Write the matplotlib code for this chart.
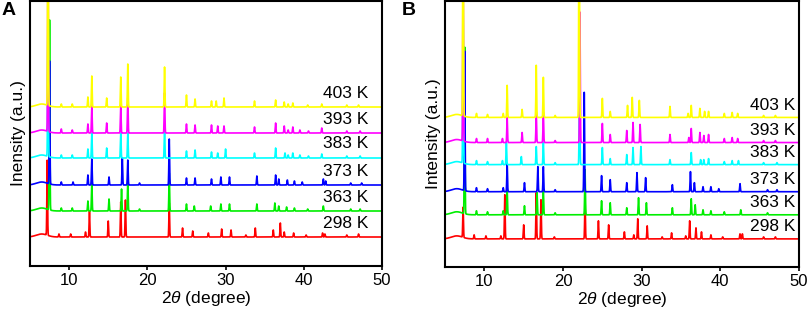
import numpy as np
import matplotlib
matplotlib.use("Agg")
import matplotlib.pyplot as plt

plt.rcParams['font.family'] = ['Liberation Sans', 'DejaVu Sans']
plt.rcParams['mathtext.fontset'] = 'custom'
plt.rcParams['mathtext.it'] = 'Liberation Sans:italic'
plt.rcParams['mathtext.rm'] = 'Liberation Sans'

temps = ["298 K", "363 K", "373 K", "383 K", "393 K", "403 K"]
colors = ["#ff0000", "#00ee00", "#0000ff", "#00ffff", "#ff00ff", "#ffff00"]

# Panel A: baselines (stack offsets) and peak lists (2theta, height)
A_offsets = [29, 55, 81, 108, 133, 159]
A_298_pos = [7.2, 8.7, 10.2, 12.1, 12.6, 15.0, 16.6, 17.2, 22.8, 24.5, 25.8, 27.8, 29.5, 30.7, 32.6, 33.8, 36.1, 37.0, 37.5, 38.7, 40.3, 42.4, 42.7, 45.5, 47.0]
A_298_h   = [75, 3, 3, 5, 26, 16, 35, 37, 34, 9, 6, 4, 8, 7, 2, 9, 7, 14, 5, 4, 2, 4, 3, 2, 3]
A_363_pos = [7.5, 9.0, 10.4, 12.4, 12.9, 15.1, 16.7, 17.5, 19.0, 22.8, 25.0, 26.0, 28.1, 29.4, 30.5, 34.0, 36.3, 36.8, 37.8, 38.8, 40.5, 42.5, 46.0, 47.2]
A_363_h   = [190, 3, 3, 10, 28, 12, 22, 31, 2, 38, 7, 5, 5, 7, 7, 7, 8, 5, 4, 3, 2, 5, 2, 2]
A_373_pos = [7.5, 9.0, 10.5, 12.4, 12.9, 15.1, 16.8, 17.5, 19.0, 22.8, 25.0, 26.1, 28.2, 29.4, 30.5, 34.0, 36.4, 36.8, 37.9, 38.8, 39.8, 42.5, 42.8, 46.0, 47.4]
A_373_h   = [123, 3, 3, 10, 26, 8, 27, 25, 2, 46, 7, 7, 6, 8, 8, 9, 10, 6, 5, 4, 3, 6, 4, 2, 2]
A_383_pos = [7.3, 9.0, 10.4, 12.4, 12.9, 14.8, 16.6, 17.5, 22.2, 25.0, 26.1, 28.2, 29.0, 30.0, 33.7, 36.4, 37.6, 38.0, 38.6, 39.5, 40.6, 42.3, 45.5, 47.2]
A_383_h   = [150, 3, 3, 9, 25, 10, 25, 25, 28, 7, 8, 6, 5, 9, 5, 10, 5, 3, 5, 3, 2, 4, 2, 2]
A_393_pos = [7.3, 9.0, 10.4, 12.4, 12.9, 14.8, 16.6, 17.5, 22.2, 25.0, 26.1, 28.2, 29.0, 29.8, 33.7, 36.4, 37.5, 38.0, 38.6, 39.5, 40.6, 42.3, 45.5, 47.2]
A_393_h   = [170, 4, 3, 9, 27, 10, 27, 35, 40, 9, 8, 8, 7, 7, 6, 10, 7, 3, 6, 3, 2, 5, 2, 2]
A_403_pos = [7.3, 9.0, 10.4, 12.4, 12.9, 14.8, 16.6, 17.5, 22.2, 25.0, 26.1, 28.2, 28.8, 29.8, 33.7, 36.4, 37.5, 38.0, 38.6, 40.5, 42.3, 45.5, 47.0]
A_403_h   = [300, 3, 3, 10, 31, 9, 30, 43, 40, 12, 8, 6, 6, 9, 6, 7, 5, 3, 4, 2, 3, 2, 2]

# Panel B
B_offsets = [28, 52, 75, 102, 124, 149]
B_298_pos = [7.3, 8.7, 10.2, 12.1, 12.6, 15.0, 16.6, 17.2, 18.9, 22.8, 24.5, 25.8, 27.8, 29.0, 29.5, 30.7, 32.6, 33.8, 35.6, 36.1, 36.9, 37.6, 38.8, 40.3, 42.5, 42.8, 45.5, 47.0]
B_298_h   = [30, 4, 3, 3, 44, 14, 46, 39, 2, 40, 18, 14, 7, 4, 20, 13, 2, 6, 3, 18, 11, 7, 4, 2, 5, 5, 2, 2]
B_363_pos = [7.5, 9.0, 10.4, 12.4, 12.9, 15.1, 16.7, 17.5, 19.0, 22.8, 24.9, 26.0, 28.1, 29.6, 30.6, 33.9, 36.3, 36.8, 37.8, 38.8, 40.5, 42.6, 46.0]
B_363_h   = [166, 4, 3, 4, 25, 9, 22, 25, 2, 45, 14, 12, 7, 17, 12, 7, 16, 10, 5, 4, 3, 5, 2]
B_373_pos = [7.5, 9.0, 10.4, 12.4, 12.9, 15.1, 16.8, 17.5, 19.0, 22.7, 24.9, 26.0, 28.1, 29.4, 30.5, 33.9, 36.2, 36.7, 37.8, 38.8, 39.8, 42.5, 46.0, 47.2]
B_373_h   = [139, 4, 3, 4, 28, 9, 25, 25, 2, 99, 16, 12, 9, 19, 14, 7, 20, 9, 5, 5, 3, 8, 2, 2]
B_383_pos = [7.3, 9.0, 10.4, 12.3, 12.8, 14.7, 16.6, 17.5, 19.0, 22.1, 25.0, 26.0, 28.1, 28.9, 29.9, 33.6, 36.3, 37.5, 37.9, 38.5, 40.5, 41.5, 42.3, 45.5, 47.2]
B_383_h   = [150, 4, 3, 4, 22, 8, 18, 22, 2, 122, 17, 6, 10, 17, 18, 5, 12, 5, 5, 6, 3, 4, 4, 2, 2]
B_393_pos = [7.3, 9.0, 10.4, 12.3, 12.9, 14.8, 16.6, 17.5, 19.0, 22.15, 25.0, 26.0, 28.1, 28.9, 29.8, 33.6, 36.0, 36.3, 37.4, 37.9, 38.5, 40.5, 41.5, 42.2, 45.5, 47.0]
B_393_h   = [170, 4, 4, 4, 25, 10, 30, 30, 2, 130, 19, 8, 12, 20, 18, 8, 5, 14, 10, 7, 8, 4, 5, 4, 2, 2]
B_403_pos = [7.3, 9.0, 10.4, 12.4, 12.9, 14.8, 16.6, 17.5, 19.0, 22.05, 25.0, 26.0, 28.2, 28.8, 29.7, 33.6, 35.9, 36.3, 37.4, 38.0, 38.5, 40.5, 41.5, 42.2, 45.5, 47.0]
B_403_h   = [300, 4, 3, 4, 32, 8, 52, 40, 2, 300, 19, 6, 12, 20, 17, 11, 4, 12, 9, 6, 6, 4, 5, 4, 2, 2]

hump_pos, hump_h, hump_w = 6.5, 3.0, 0.7
peak_w = 0.045

A_peaks = [(A_298_pos, A_298_h), (A_363_pos, A_363_h), (A_373_pos, A_373_h),
           (A_383_pos, A_383_h), (A_393_pos, A_393_h), (A_403_pos, A_403_h)]
B_peaks = [(B_298_pos, B_298_h), (B_363_pos, B_363_h), (B_373_pos, B_373_h),
           (B_383_pos, B_383_h), (B_393_pos, B_393_h), (B_403_pos, B_403_h)]

x = np.arange(5.0, 49.8, 0.01)


def pattern(pos, h, off):
    y = np.full_like(x, off, dtype=float)
    y += hump_h * np.exp(-0.5 * ((x - hump_pos) / hump_w) ** 2)
    for p, a in zip(pos, h):
        y += a * np.exp(-0.5 * ((x - p) / peak_w) ** 2)
    return y


fig = plt.figure(figsize=(8.09, 3.14), dpi=100)
axA = fig.add_axes([30 / 809, 48 / 314, 352 / 809, 265 / 314])
axB = fig.add_axes([445 / 809, 47 / 314, 354 / 809, 266 / 314])

for ax, peaks, offs, ylab, lab_x, lab_dy, letter, lx in [
        (axA, A_peaks, A_offsets, "Inensity (a.u.)", 48.3, 14, "A", 2 / 809),
        (axB, B_peaks, B_offsets, "Intensity (a.u.)", 49.5, 12, "B", 402 / 809)]:
    for (pos, h), off, c, t in zip(peaks, offs, colors, temps):
        ax.plot(x, pattern(pos, h, off), color=c, lw=1.2)
        ax.text(lab_x, off + lab_dy, t, ha="right", va="center", fontsize=12.5)
    ax.set_xlim(5, 50)
    ax.set_ylim(0, 265)
    ax.set_yticks([])
    ax.set_xticks([10, 20, 30, 40, 50])
    ax.tick_params(axis="x", direction="out", length=3, width=1.2, labelsize=12, pad=2)
    for s in ax.spines.values():
        s.set_linewidth(1.5)
    ax.set_xlabel(r"2$\it{\theta}$ (degree)", fontsize=12.5, labelpad=1)
    ax.set_ylabel(ylab, fontsize=12.5, labelpad=3)
    fig.text(lx, 0.995, letter, fontsize=14, fontweight="bold", ha="left", va="top")

fig.savefig("out.png", dpi=100)
